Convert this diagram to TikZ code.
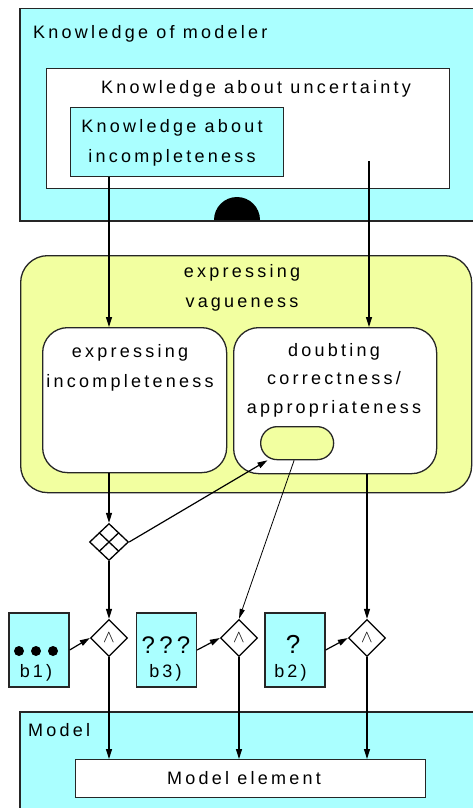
\documentclass[tikz,border=0pt]{standalone}
\usepackage{fontspec}
\setmainfont{Liberation Sans}[LetterSpace=18]
\usetikzlibrary{arrows.meta, shapes.geometric, calc}
\definecolor{modelcyan}{RGB}{170,255,255}
\definecolor{vagueyellow}{RGB}{242,255,160}

\begin{document}
\begin{tikzpicture}[x=1pt, y=-1pt,
    % Define styles
    every node/.style={font=\fontsize{18}{29.5}\selectfont},
    areabox/.style={rectangle, draw=black!85, line width=1.5pt, fill=modelcyan, anchor=north west, inner sep=0pt},
    whitebox/.style={rectangle, draw=black!85, line width=1.3pt, fill=white, anchor=north west, inner sep=0pt},
    statebox/.style={rectangle, draw=black!85, line width=1.3pt, fill=white, rounded corners=25pt, anchor=north west, inner sep=0pt},
    qualbox/.style={rectangle, draw=black!85, line width=1.3pt, fill=modelcyan, minimum width=60pt, minimum height=74pt, inner sep=0pt},
    andbox/.style={diamond, draw=black, line width=1.3pt, fill=white, minimum width=37pt, minimum height=37pt, inner sep=0pt},
    caption/.style={anchor=base, align=center, inner sep=0pt},
    arrow/.style={-{Triangle[length=10pt, width=6pt]}, line width=1.2pt},
    thinarrow/.style={-{Triangle[length=10pt, width=5pt]}, line width=0.8pt}
]
    \useasboundingbox (0,0) rectangle (472,808);

    % 1. Knowledge of the modeler
    \node[areabox, minimum width=470pt, minimum height=212pt] (modeler) at (19,8) {};
    \node[caption, anchor=base west] (modelerlabel) at (33,38) {Knowledge of modeler};
    \node[whitebox, minimum width=403pt, minimum height=120pt] (uncert) at (46,68) {};
    \node[caption] (uncertlabel) at (256,93) {Knowledge about uncertainty};
    \node[areabox, line width=1.3pt, minimum width=213pt, minimum height=69pt] (incompl) at (70,107) {};
    % multi-line captions sit on the baseline of their last line
    \node[caption] (incompllabel) at (172,162) {Knowledge about\\incompleteness};
    \fill (214,220) arc[start angle=180, end angle=360, radius=23] -- cycle;

    % 2. Expressing vagueness
    \node[statebox, fill=vagueyellow, rounded corners=27pt, minimum width=451pt, minimum height=237pt] (vague) at (20,255) {};
    \node[caption] (vaguelabel) at (242,307) {expressing\\vagueness};
    \node[statebox, minimum width=184pt, minimum height=145pt] (exprinc) at (42,327) {};
    \node[caption] (exprinclabel) at (130,387) {expressing\\incompleteness};
    \node[statebox, minimum width=203pt, minimum height=146pt] (doubt) at (233,327) {};
    \node[caption, font=\fontsize{18}{28.5}\selectfont] (doubtlabel) at (334,413) {doubting\\correctness/\\appropriateness};
    \node[statebox, fill=vagueyellow, rounded corners=16.5pt, minimum width=73pt, minimum height=33pt] (pill) at (260,426) {};

    % 3. Gateways
    \node[andbox, minimum width=39pt] (grid) at (109,542) {};
    \draw[line width=1.3pt] ($(grid.north)!0.5!(grid.west)$) -- ($(grid.south)!0.5!(grid.east)$);
    \draw[line width=1.3pt] ($(grid.north)!0.5!(grid.east)$) -- ($(grid.south)!0.5!(grid.west)$);
    \node[andbox] (and1) at (109,638) {$\wedge$};
    \node[andbox] (and2) at (239,638) {$\wedge$};
    \node[andbox] (and3) at (367,638) {$\wedge$};

    % 4. Qualifiers b1) b3) b2)
    \node[qualbox] (b1) at (39,650) {};
    \foreach \dx in {19,36,53}
        \fill (\dx,651) circle[radius=5];
    \node[caption] (b1label) at (36,677) {b1)};
    \node[qualbox] (b3) at (166.5,650) {};
    \node[caption, font=\fontsize{24}{24}\selectfont] (b3mark) at (166,653) {???};
    \node[caption] (b3label) at (165.5,677) {b3)};
    \node[qualbox] (b2) at (295,650) {};
    \node[caption, font=\fontsize{26}{26}\selectfont] (b2mark) at (293,653) {?};
    \node[caption] (b2label) at (290.5,677) {b2)};

    % 5. Model
    \node[areabox, minimum width=470pt, minimum height=110pt] (model) at (19,711) {};
    \node[caption, anchor=base west] (modellabel) at (28,736) {Model};
    \node[whitebox, minimum width=350pt, minimum height=38pt] (elem) at (75,759) {};
    \node[caption] (elemlabel) at (244,784) {Model element};

    % 6. Connections
    \coordinate (uncstart) at (369,161);
    \draw[arrow] (incompl.south -| grid) -- (exprinc.north -| grid);
    \draw[arrow] (uncstart) -- (doubt.north -| uncstart);
    \draw[arrow] (exprinc.south -| grid) -- (grid.north);
    \draw[arrow] (grid.east) -- (pill.210);
    \draw[thinarrow] (pill.260) -- (and2.north);
    \draw[arrow] (doubt.south -| and3) -- (and3.north);
    \draw[arrow] (grid.south) -- (and1.north);

    \draw[arrow] (b1.east) -- (and1.west);
    \draw[arrow] (b3.east) -- (and2.west);
    \draw[arrow] (b2.east) -- (and3.west);

    \foreach \g in {and1, and2, and3}
        \draw[arrow] (\g.south) -- (elem.north -| \g);

\end{tikzpicture}
\end{document}
